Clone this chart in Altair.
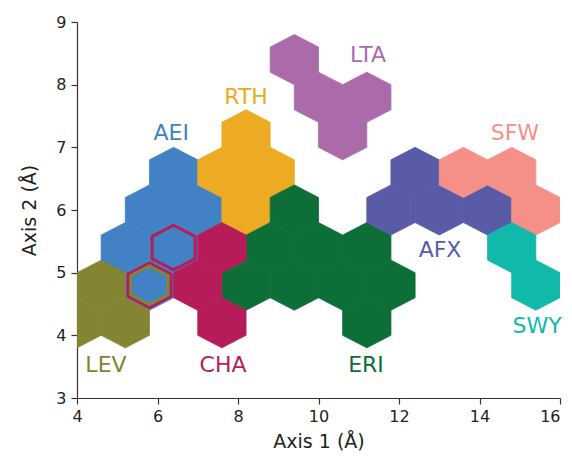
import altair as alt
import pandas as pd

# ---- data ----
clusters = ["AEI", "RTH", "LTA", "ERI", "CHA", "LEV", "AFX", "SFW", "SWY"]
colors = ["#4281c3", "#edab23", "#ab6bab", "#0d6e38", "#b71c5a", "#838532",
          "#5a5ba7", "#f59088", "#11b9ab"]

aei_x = [6.4, 5.8, 7.0, 5.2, 6.4, 5.8]
aei_y = [6.6, 6.0, 6.0, 5.4, 5.4, 4.8]
rth_x = [8.2, 7.6, 8.8, 8.2]
rth_y = [7.2, 6.6, 6.6, 6.0]
lta_x = [9.4, 10.0, 11.2, 10.6]
lta_y = [8.4, 7.8, 7.8, 7.2]
eri_x = [9.4, 8.8, 10.0, 11.2, 8.2, 9.4, 10.6, 11.8, 11.2]
eri_y = [6.0, 5.4, 5.4, 5.4, 4.8, 4.8, 4.8, 4.8, 4.2]
cha_x = [7.6, 7.0, 7.6]
cha_y = [5.4, 4.8, 4.2]
lev_x = [4.0, 5.2, 4.6]
lev_y = [4.2, 4.2, 4.8]
afx_x = [12.4, 11.8, 13.0, 14.2]
afx_y = [6.6, 6.0, 6.0, 6.0]
sfw_x = [13.6, 14.8, 15.4]
sfw_y = [6.6, 6.6, 6.0]
swy_x = [14.8, 15.4]
swy_y = [5.4, 4.8]

# hexes shared with other frameworks (drawn as outlines)
cha_outline_x = [6.4, 5.8]
cha_outline_y = [5.4, 4.8]
lev_outline_x = [5.8]
lev_outline_y = [4.8]

# label positions
label_names = ["LTA", "RTH", "AEI", "SFW", "AFX", "SWY", "LEV", "CHA", "ERI"]
label_x = [11.23, 8.2, 6.34, 14.88, 13.02, 15.43, 4.72, 7.63, 11.18]
label_y = [8.47, 7.8, 7.23, 7.23, 5.36, 4.15, 3.53, 3.53, 3.53]

x_ticks = [4, 6, 8, 10, 12, 14, 16]
y_ticks = [3, 4, 5, 6, 7, 8, 9]

# ---- build tables ----
groups = {
    "AEI": (aei_x, aei_y), "RTH": (rth_x, rth_y), "LTA": (lta_x, lta_y),
    "ERI": (eri_x, eri_y), "CHA": (cha_x, cha_y), "LEV": (lev_x, lev_y),
    "AFX": (afx_x, afx_y), "SFW": (sfw_x, sfw_y), "SWY": (swy_x, swy_y),
}
rows = []
for name, (xs_, ys_) in groups.items():
    for x, y in zip(xs_, ys_):
        rows.append({"x": x, "y": y, "cluster": name})
hex_df = pd.DataFrame(rows)

outline_cha = pd.DataFrame({"x": cha_outline_x, "y": cha_outline_y, "cluster": "CHA"})
outline_lev = pd.DataFrame({"x": lev_outline_x, "y": lev_outline_y, "cluster": "LEV"})
labels_df = pd.DataFrame({"x": label_x, "y": label_y, "cluster": label_names})

# ---- geometry ----
W, H = 483, 376
XMIN, XMAX, YMIN, YMAX = 4, 16, 3, 9
px_x = W / (XMAX - XMIN)
px_y = H / (YMAX - YMIN)
half_h = 0.4 * px_y      # hex half-height (pointy top) in px
half_w = 0.6 * px_x      # hex half-width in px
k = half_w / half_h
hex_path = (f"M0,-1L{k:.4f},-0.5L{k:.4f},0.5L0,1L{-k:.4f},0.5L{-k:.4f},-0.5Z")
hex_size = (2 * half_h) ** 2

font = "DejaVu Sans"
color_scale = alt.Scale(domain=clusters, range=colors)
xs = alt.Scale(domain=[XMIN, XMAX], nice=False, zero=False)
ys = alt.Scale(domain=[YMIN, YMAX], nice=False, zero=False)

x_enc = alt.X("x:Q", scale=xs, title="Axis 1 (Å)",
              axis=alt.Axis(values=x_ticks, format="d", grid=False,
                            tickSize=6, labelPadding=4, titlePadding=8,
                            labelAlign=alt.condition("datum.value == 16",
                                                     alt.value("right"),
                                                     alt.value("center"))))
y_enc = alt.Y("y:Q", scale=ys, title="Axis 2 (Å)",
              axis=alt.Axis(values=y_ticks, format="d", grid=False,
                            tickSize=6, labelPadding=5, titlePadding=16))

hexes = alt.Chart(hex_df).mark_point(
    shape=hex_path, size=hex_size, filled=True, opacity=1, strokeWidth=0.8,
    clip=True
).encode(
    x=x_enc, y=y_enc,
    fill=alt.Fill("cluster:N", scale=color_scale, legend=None),
    stroke=alt.Stroke("cluster:N", scale=color_scale, legend=None),
)

out1 = alt.Chart(outline_cha).mark_point(
    shape=hex_path, size=hex_size * 0.89 ** 2, filled=False, opacity=1,
    strokeWidth=3, clip=True
).encode(
    x=alt.X("x:Q", scale=xs), y=alt.Y("y:Q", scale=ys),
    stroke=alt.Stroke("cluster:N", scale=color_scale, legend=None),
)

out2 = alt.Chart(outline_lev).mark_point(
    shape=hex_path, size=hex_size * 0.77 ** 2, filled=False, opacity=1,
    strokeWidth=3, clip=True
).encode(
    x=alt.X("x:Q", scale=xs), y=alt.Y("y:Q", scale=ys),
    stroke=alt.Stroke("cluster:N", scale=color_scale, legend=None),
)

texts = alt.Chart(labels_df).mark_text(
    font=font, fontSize=22, align="center", baseline="middle"
).encode(
    x=alt.X("x:Q", scale=xs), y=alt.Y("y:Q", scale=ys),
    text="cluster:N",
    color=alt.Color("cluster:N", scale=color_scale, legend=None),
)

chart = alt.layer(hexes, out1, out2, texts).properties(
    width=W, height=H,
    autosize=alt.AutoSizeParams(type="none"),
    padding={"left": 69, "top": 14, "right": 4, "bottom": 57},
).configure_view(stroke=None).configure_axis(
    labelFont=font, titleFont=font, labelFontSize=16, titleFontSize=19,
    titleFontWeight="normal", labelColor="#222", titleColor="#222",
    domainColor="#333", tickColor="#333", domainWidth=1.2, tickWidth=1.2,
)

chart.save("out.html", embed_options={"renderer": "svg", "actions": False})
